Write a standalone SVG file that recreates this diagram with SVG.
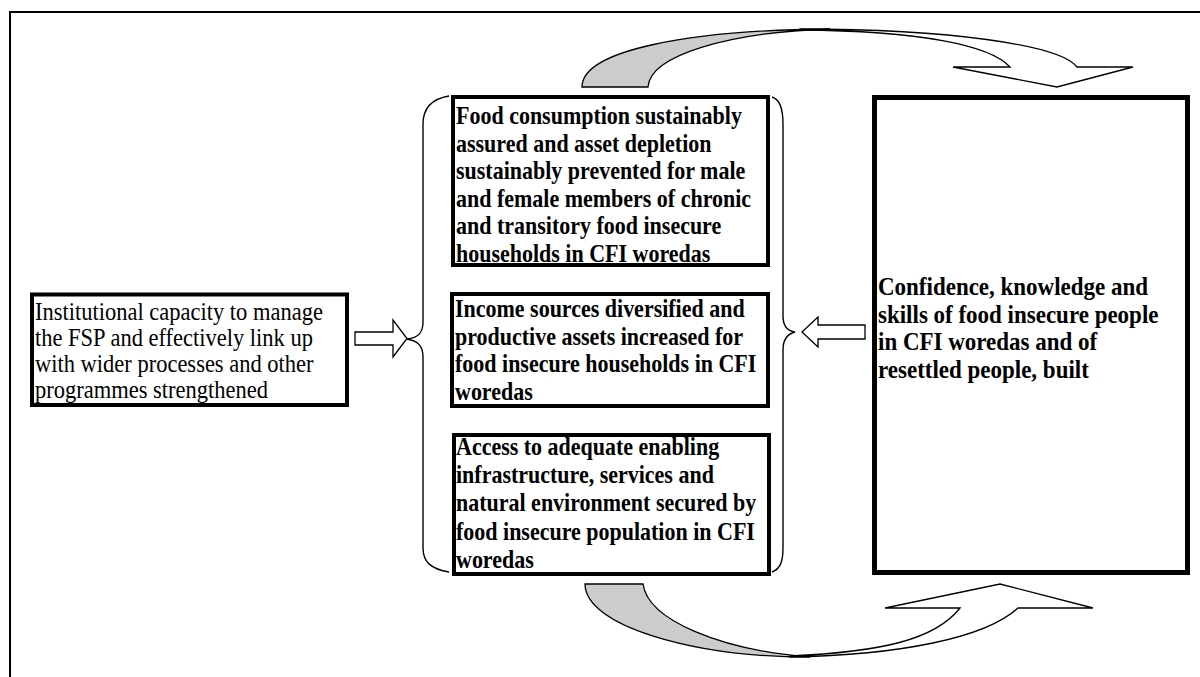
<svg xmlns="http://www.w3.org/2000/svg" width="1200" height="677" viewBox="0 0 1200 677">
  <style>
    .frame { fill: none; stroke: #000; stroke-width: 2; }
    .box { fill: #fff; stroke: #000; stroke-width: 4; }
    .brace { fill: none; stroke: #000; stroke-width: 1.4; }
    .block { fill: #fff; stroke: #000; stroke-width: 1.3; stroke-linejoin: miter; }
    .back { fill: #cccccc; stroke: #000; stroke-width: 1.3; }
    .t { font-family: "Liberation Serif", "Times New Roman", serif; font-size: 22.5px; fill: #000; }
    .b { font-family: "Liberation Serif", "Times New Roman", serif; font-size: 22px; font-weight: bold; fill: #000; }
    .bl { font-family: "Liberation Serif", "Times New Roman", serif; font-size: 23px; font-weight: bold; fill: #000; }
  </style>

  <!-- page frame: top and left edges -->
  <path class="frame" d="M10,677 L10,12 L1200,12"/>

  <!-- connectors: braces, block arrows and curved loop arrows -->
  <g id="connectors">
    <path class="brace" d="M449,96 C431,99 423,108 423,124 L423,322 C423,333 418,338 407,339 C418,341 423,346 423,357 L423,548 C423,562 431,569 449,572"/>
    <path class="brace" d="M772,97 C779,99 783,108 783,124 L783,316 C783,326 787,331 795,332 C787,334 783,339 783,350 L783,548 C783,562 780,569 772,572"/>

    <path class="block" d="M355,332 L393,332 L393,320 L407,338.5 L393,357 L393,345 L355,345 Z"/>
    <path class="block" d="M865,325 L818,325 L818,317 L802,332 L818,347 L818,339 L865,339 Z"/>

    <!-- upper loop: shaded back, then the descending ribbon with its head -->
    <path class="back" d="M582,87 C582,50 690,30 830,29 C730,32 650,55 648,87 Z"/>
    <path class="block" d="M800,29 C950,29 1060,45 1077,67 L1133,67 L1057,87 L953,67 L1010,67 C990,45 920,31 800,30 Z"/>

    <!-- lower loop: shaded back, then the rising ribbon with its head -->
    <path class="back" d="M585,584 C585,625 690,657 810,657 C720,650 648,620 643,584 Z"/>
    <path class="block" d="M790,657 C900,655 985,638 1018,608 L1093,608 L1000,584 L885,608 L960,608 C935,640 880,652 790,656 Z"/>
  </g>

  <!-- glyphs are set slightly tall: each line is placed at its baseline and stretched 1.1 vertically -->
  <g id="capacity">
    <rect class="box" x="32" y="294.5" width="315" height="110.5"/>
    <text class="t" transform="translate(35,320) scale(1,1.1)">Institutional capacity to manage</text>
    <text class="t" transform="translate(35,346) scale(1,1.1)">the FSP and effectively link up</text>
    <text class="t" transform="translate(35,372) scale(1,1.1)">with wider processes and other</text>
    <text class="t" transform="translate(35,398) scale(1,1.1)">programmes strengthened</text>
  </g>

  <g id="food-consumption">
    <rect class="box" x="453" y="97" width="315" height="168"/>
    <text class="b" transform="translate(456,124) scale(1,1.1)">Food consumption sustainably</text>
    <text class="b" transform="translate(456,151.5) scale(1,1.1)">assured and asset depletion</text>
    <text class="b" transform="translate(456,179) scale(1,1.1)">sustainably prevented for male</text>
    <text class="b" transform="translate(456,206.5) scale(1,1.1)">and female members of chronic</text>
    <text class="b" transform="translate(456,234) scale(1,1.1)">and transitory food insecure</text>
    <text class="b" transform="translate(456,261.5) scale(1,1.1)">households in CFI woredas</text>
  </g>

  <g id="income">
    <rect class="box" x="452" y="294" width="316" height="112"/>
    <text class="b" transform="translate(455,317) scale(1,1.1)">Income sources diversified and</text>
    <text class="b" transform="translate(455,344.5) scale(1,1.1)">productive assets increased for</text>
    <text class="b" transform="translate(455,372) scale(1,1.1)">food insecure households in CFI</text>
    <text class="b" transform="translate(455,400) scale(1,1.1)">woredas</text>
  </g>

  <g id="access">
    <rect class="box" x="454" y="435" width="315" height="139"/>
    <text class="b" transform="translate(456,455) scale(1,1.1)">Access to adequate enabling</text>
    <text class="b" transform="translate(456,483) scale(1,1.1)">infrastructure, services and</text>
    <text class="b" transform="translate(456,511) scale(1,1.1)">natural environment secured by</text>
    <text class="b" transform="translate(456,540) scale(1,1.1)">food insecure population in CFI</text>
    <text class="b" transform="translate(456,568) scale(1,1.1)">woredas</text>
  </g>

  <g id="confidence">
    <rect class="box" x="874.5" y="97.5" width="313" height="475" style="stroke-width:5"/>
    <text class="bl" transform="translate(878,295) scale(1,1.1)">Confidence, knowledge and</text>
    <text class="bl" transform="translate(878,323) scale(1,1.1)">skills of food insecure people</text>
    <text class="bl" transform="translate(878,350) scale(1,1.1)">in CFI woredas and of</text>
    <text class="bl" transform="translate(878,378) scale(1,1.1)">resettled people, built</text>
  </g>
</svg>
